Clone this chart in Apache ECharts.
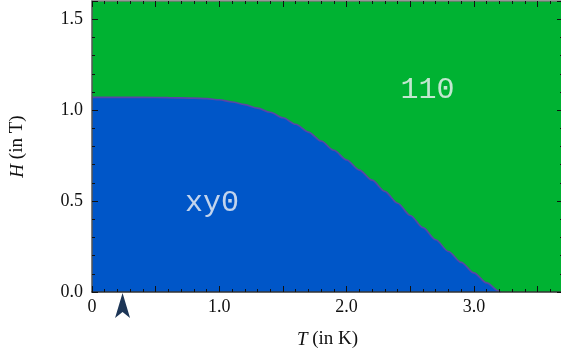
<!DOCTYPE html>
<html><head><meta charset="utf-8">
<script src="https://cdn.jsdelivr.net/npm/echarts@6/dist/echarts.min.js"></script>
<style>html,body{margin:0;padding:0;background:#fff}#c{width:561px;height:360px}</style>
</head><body><div id="c"></div>
<script>
// Phase boundary H_c(T)
const temps = [0, 0.2, 0.4, 0.6, 0.8, 0.9, 1.0, 1.1, 1.2, 1.3, 1.4, 1.5, 1.6, 1.7, 1.8, 1.9, 2.0, 2.1, 2.2, 2.3, 2.4, 2.5, 2.6, 2.7, 2.8, 2.9, 3.0, 3.1, 3.2, 3.21];
const fields = [1.07, 1.07, 1.07, 1.069, 1.066, 1.063, 1.057, 1.045, 1.030, 1.011, 0.988, 0.958, 0.922, 0.879, 0.830, 0.779, 0.726, 0.670, 0.615, 0.553, 0.488, 0.421, 0.354, 0.287, 0.223, 0.163, 0.105, 0.050, 0.004, 0.0];
const phaseNames = ['xy0', '110'];
const phaseAt = [[0.943, 0.49], [2.635, 1.113]];
const markerT = [0.24];
const xTickLabels = {0: '0', 1: '1.0', 2: '2.0', 3: '3.0'};
const yTickLabels = {0: '0.0', 0.5: '0.5', 1: '1.0', 1.5: '1.5'};

const chart = echarts.init(document.getElementById('c'), null, {renderer: 'canvas'});
const serif = '"Liberation Serif", "DejaVu Serif", serif';
const tick = () => ({show: true, inside: true, length: 6, lineStyle: {color: '#111', width: 1}});
const minor = () => ({show: true, splitNumber: 5, length: 3, lineStyle: {color: '#111', width: 1}});
const nameStyle = {color: '#111', fontFamily: serif, fontSize: 19,
  rich: {i: {fontStyle: 'italic', fontFamily: serif, fontSize: 19, color: '#111'}}};
chart.setOption({
  animation: false,
  grid: {left: 92, top: 1, width: 471, height: 291, show: true, backgroundColor: '#00b232', borderWidth: 0,
    outerBoundsMode: 'none', containLabel: false},
  xAxis: [{
    type: 'value', min: 0, max: 3.7, interval: 0.5, z: 10,
    axisLine: {show: true, onZero: false, lineStyle: {color: '#333', width: 1.5}},
    axisTick: tick(), minorTick: minor(), splitLine: {show: false},
    axisLabel: {color: '#111', fontFamily: serif, fontSize: 18, margin: 6, showMaxLabel: false,
      formatter: v => (xTickLabels[v] !== undefined ? xTickLabels[v] : '')},
    name: '{i|T} (in K)', nameLocation: 'middle', nameGap: 38, nameTextStyle: nameStyle
  }, {
    type: 'value', min: 0, max: 3.7, interval: 0.5, position: 'top', z: 10,
    axisLine: {show: true, onZero: false, lineStyle: {color: '#777', width: 1.5}},
    axisTick: tick(), minorTick: minor(), splitLine: {show: false}, axisLabel: {show: false}
  }],
  yAxis: [{
    type: 'value', min: 0, max: 1.6, interval: 0.5, z: 10,
    axisLine: {show: true, onZero: false, lineStyle: {color: '#555', width: 1.5}},
    axisTick: tick(), minorTick: minor(), splitLine: {show: false},
    axisLabel: {color: '#111', fontFamily: serif, fontSize: 18, margin: 9, showMaxLabel: false,
      formatter: v => (yTickLabels[v] !== undefined ? yTickLabels[v] : '')},
    name: '{i|H} (in T)', nameLocation: 'middle', nameGap: 65, nameRotate: 90, nameTextStyle: nameStyle
  }, {
    type: 'value', min: 0, max: 1.6, interval: 0.5, position: 'right', z: 10,
    axisLine: {show: true, onZero: false, lineStyle: {color: '#555', width: 1.5}},
    axisTick: tick(), minorTick: minor(), splitLine: {show: false}, axisLabel: {show: false}
  }],
  series: [{
    type: 'line', smooth: 0.3, smoothMonotone: 'x', showSymbol: false, symbol: 'none',
    data: temps.map((t, i) => [t, fields[i]]),
    lineStyle: {color: '#5846a6', width: 1.6},
    areaStyle: {color: '#0056c8', opacity: 1},
    z: 2
  }, {
    type: 'scatter', symbolSize: 0, silent: true,
    data: phaseNames.map((n, i) => ({name: n, value: phaseAt[i]})),
    label: {show: true, position: 'inside', formatter: p => p.name, color: '#f2f4f6',
      fontFamily: '"Liberation Mono", "DejaVu Sans Mono", monospace', fontSize: 30},
    z: 5
  }, {
    type: 'scatter', clip: false, silent: true,
    symbol: 'path://M7,0 L14,25 L7,19 L0,25 Z', symbolSize: [15, 25],
    itemStyle: {color: '#1d3657', opacity: 1},
    data: markerT.map(t => [t, -0.074]),
    z: 6
  }]
});
</script></body></html>
